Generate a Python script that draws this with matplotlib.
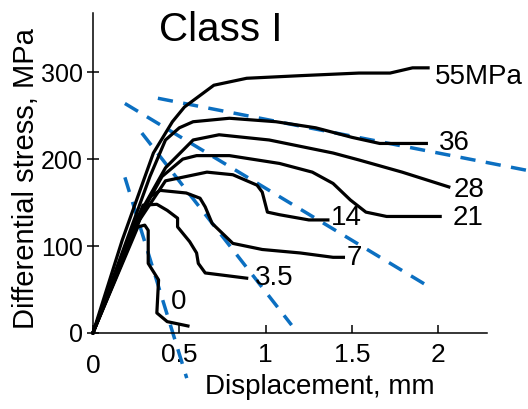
import numpy as np
import matplotlib
matplotlib.use("Agg")
import matplotlib.pyplot as plt

plt.rcParams['font.family'] = ['Liberation Sans', 'DejaVu Sans']

# Stress-displacement curves, one per confining pressure (MPa)
pressures = ["55MPa", "36", "28", "21", "14", "7", "3.5", "0"]

disp_55 = [0, 0.17, 0.35, 0.46, 0.53, 0.70, 0.89, 1.20, 1.54, 1.72, 1.85, 1.94]
stress_55 = [0, 107, 207, 243, 260, 285, 293, 296, 299, 299, 305, 305]

disp_36 = [0, 0.22, 0.33, 0.42, 0.50, 0.58, 0.79, 1.06, 1.29, 1.50, 1.66, 1.93]
stress_36 = [0, 120, 180, 222, 236, 243, 247, 243, 236, 225, 218, 218]

disp_28 = [0, 0.25, 0.42, 0.58, 0.73, 1.02, 1.39, 1.54, 1.79, 2.06]
stress_28 = [0, 130, 190, 222, 228, 222, 207, 199, 185, 168]

disp_21 = [0, 0.26, 0.40, 0.52, 0.60, 0.79, 1.08, 1.27, 1.39, 1.49, 1.58, 1.70, 2.01]
stress_21 = [0, 130, 180, 200, 204, 204, 195, 185, 172, 153, 139, 134, 134]

disp_14 = [0, 0.27, 0.42, 0.66, 0.81, 0.95, 0.98, 1.01, 1.08, 1.25, 1.36]
stress_14 = [0, 130, 175, 185, 182, 170, 162, 139, 136, 130, 130]

disp_7 = [0, 0.27, 0.33, 0.39, 0.54, 0.62, 0.65, 0.69, 0.81, 0.98, 1.20, 1.39, 1.45]
stress_7 = [0, 130, 157, 164, 161, 155, 145, 126, 103, 96, 92, 87, 87]

disp_3_5 = [0, 0.29, 0.37, 0.43, 0.49, 0.49, 0.56, 0.60, 0.61, 0.65, 0.89]
stress_3_5 = [0, 147, 148, 141, 132, 122, 105, 92, 80, 69, 63]

disp_0 = [0, 0.26, 0.30, 0.32, 0.32, 0.38, 0.37, 0.43, 0.55]
stress_0 = [0, 122, 124, 118, 80, 61, 23, 13, 8]

curves = [
    (disp_55, stress_55), (disp_36, stress_36), (disp_28, stress_28),
    (disp_21, stress_21), (disp_14, stress_14), (disp_7, stress_7),
    (disp_3_5, stress_3_5), (disp_0, stress_0),
]

# where each pressure label sits (left edge, vertical centre)
label_x = [1.98, 2.00, 2.09, 2.08, 1.38, 1.47, 0.94, 0.45]
label_y = [294, 218, 164, 132, 132, 86, 63, 36]

# dashed trend lines: (x0, y0, x1, y1)
trend_lines = [
    (0.376, 270, 2.514, 187),
    (0.185, 264, 1.93, 55),
    (0.283, 230, 1.15, 9),
    (0.185, 179, 0.543, -52),
]

xticks = [0, 0.5, 1, 1.5, 2]
xticklabels = ["", "0.5", "1", "1.5", "2"]
yticks = [0, 100, 200, 300]

fig = plt.figure(figsize=(5.28, 4.09), dpi=100)
ax = fig.add_axes([0.176, 0.186, 0.746, 0.782])

blue = '#0b6fc1'
for x0, y0, x1, y1 in trend_lines:
    ax.plot([x0, x1], [y0, y1], color=blue, lw=2.5, dashes=(4.4, 3.0),
            clip_on=False, zorder=2)

for (d, s) in curves:
    ax.plot(d, s, color='black', lw=2.3, zorder=3, clip_on=False)

for name, lx, ly in zip(pressures, label_x, label_y):
    ax.text(lx, ly, name, fontsize=20, ha='left', va='center', zorder=4)

ax.set_xlim(0, 2.28)
ax.set_ylim(0, 368)

for side in ['top', 'right']:
    ax.spines[side].set_visible(False)
for side in ['left', 'bottom']:
    ax.spines[side].set_linewidth(1.1)

ax.set_xticks(xticks)
ax.set_xticklabels(xticklabels)
ax.set_yticks(yticks)
ax.tick_params(axis='x', direction='in', length=6, width=1.1, labelsize=19, pad=7)
ax.tick_params(axis='y', direction='inout', length=9, width=1.1, labelsize=18, pad=3)

# origin label on the x axis sits a bit lower than the others
ax.annotate("0", xy=(0, 0), xytext=(0, -15), textcoords='offset points',
            ha='center', va='top', fontsize=19, annotation_clip=False)

ax.set_xlabel("Displacement, mm", fontsize=20)
ax.xaxis.set_label_coords(0.576, -0.128)
ax.set_ylabel("Differential stress, MPa", fontsize=21)
ax.yaxis.set_label_coords(-0.135, 0.482)

fig.text(0.301, 0.972, "Class I", fontsize=29, ha='left', va='top')

fig.savefig("out.png", dpi=100)
